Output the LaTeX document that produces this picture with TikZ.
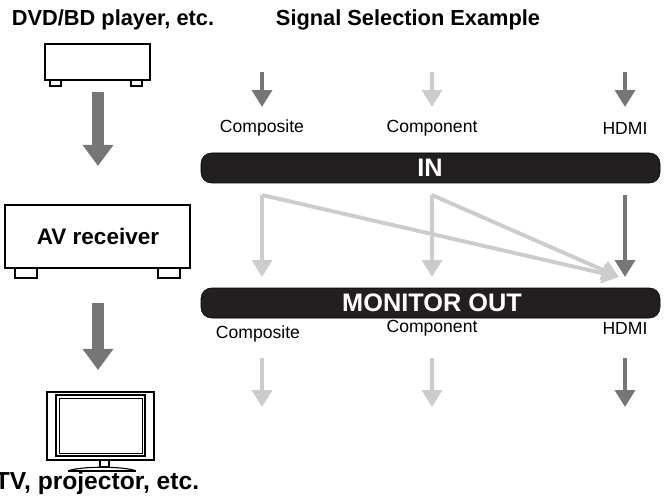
\documentclass[tikz,border=0pt]{standalone}
\usepackage{fontspec}
\setmainfont{Liberation Sans}
\usetikzlibrary{arrows.meta, positioning}
\definecolor{sigdark}{RGB}{118, 118, 118}
\definecolor{siglight}{RGB}{204, 204, 204}
\definecolor{barblack}{RGB}{35, 31, 32}

\begin{document}
\begin{tikzpicture}[x=0.025cm, y=-0.025cm,
  every node/.style={font=\fontsize{12.5}{14}\selectfont},
  title/.style={font=\fontsize{15.5}{18}\selectfont\bfseries},
  bigarrow/.style={sigdark, line width=8pt, -{Triangle[width=21pt, length=15pt]}},
  sig/.style={line width=2.8pt, -{Triangle[width=14pt, length=12pt]}},
  bar/.style={fill=barblack, rounded corners=7.5pt},
  box/.style={draw, line width=1.2pt, fill=white}]
  \useasboundingbox (0,0) rectangle (670,498);

  % Titles
  \node[title] (srctitle) at (113,20) {DVD/BD player, etc.};
  \node[title] (seltitle) at (408,20) {Signal Selection Example};

  % Player
  \draw[box] (50,80) rectangle (61,86);
  \draw[box] (131,80) rectangle (142,86);
  \draw[box] (45,44) rectangle (150,80);
  \coordinate (player) at (98,92);

  % AV receiver
  \draw[box] (15,268) rectangle (37,278);
  \draw[box] (158,268) rectangle (180,278);
  \draw[box] (5,205) rectangle (190,268);
  \node[font=\fontsize{16}{18}\selectfont\bfseries] (avr) at (98,236) {AV receiver};
  \coordinate (avrin) at (98,166);
  \coordinate (avrout) at (98,303);
  \coordinate (tvin) at (98,370);
  \draw[bigarrow] (player) -- (avrin);
  \draw[bigarrow] (avrout) -- (tvin);

  % TV
  \draw[line width=0.8pt] (47,392) rectangle (154,460);
  \draw[line width=0.8pt] (56,395) rectangle (145,456);
  \draw[line width=0.6pt] (59,398) rectangle (142,453);
  \draw[line width=0.8pt] (100,460) rectangle (109,467);
  \draw[line width=0.8pt] (68,471) .. controls (80,466) and (125,466) .. (136,471);
  \draw[line width=0.8pt] (68,471) -- (136,471);
  \node[font=\fontsize{17.5}{20}\selectfont\bfseries] (tv) at (97,483) {TV, projector, etc.};

  % Bars
  \draw[bar] (201,153) rectangle (660,183);
  \node[white, font=\fontsize{18}{20}\selectfont\bfseries] (inbar) at (430,168) {IN};
  \draw[bar] (201,288) rectangle (660,318);
  \node[white, font=\fontsize{18}{20}\selectfont\bfseries] (outbar) at (432,303) {MONITOR OUT};

  % Input side
  \foreach \x/\col in {262/sigdark, 432/siglight, 625/sigdark} {
    \coordinate (top\x) at (\x,72);
    \coordinate (tin\x) at (\x,107);
    \draw[sig, \col] (top\x) -- (tin\x);
  }
  \node (incomp) at (262,128) {Composite};
  \node (incpnt) at (432,128) {Component};
  \node (inhdmi) at (625,128) {HDMI};

  % Selection
  \coordinate (selA) at (262,195);
  \coordinate (selB) at (432,195);
  \coordinate (selC) at (625,195);
  \coordinate (mixA) at (262,277);
  \coordinate (mixB) at (432,277);
  \coordinate (mixC) at (625,277);
  \coordinate (mixX) at (619,277);
  \draw[sig, siglight] (selA) -- (mixA);
  \draw[sig, siglight] (selB) -- (mixB);
  \draw[sig, siglight] (selA) -- (mixX);
  \draw[sig, siglight] (selB) -- (mixX);
  \draw[sig, sigdark] (selC) -- (mixC);

  % Output side
  \node (outcomp) at (258,334) {Composite};
  \node (outcpnt) at (432,328) {Component};
  \node (outhdmi) at (625,328) {HDMI};
  \coordinate (oA) at (262,358);
  \coordinate (oB) at (432,358);
  \coordinate (oC) at (625,358);
  \coordinate (eA) at (262,407);
  \coordinate (eB) at (432,407);
  \coordinate (eC) at (625,407);
  \draw[sig, siglight] (oA) -- (eA);
  \draw[sig, siglight] (oB) -- (eB);
  \draw[sig, sigdark] (oC) -- (eC);
\end{tikzpicture}
\end{document}
